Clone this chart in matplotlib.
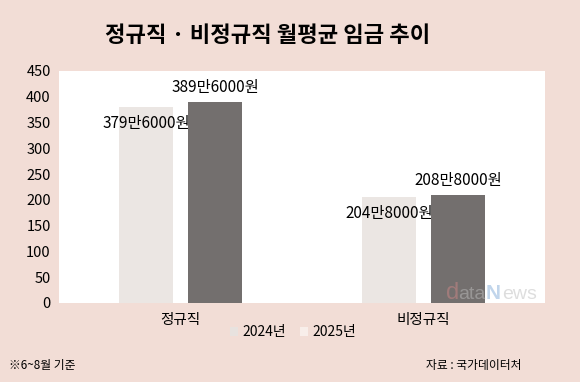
import matplotlib
matplotlib.use("Agg")
import matplotlib.pyplot as plt
import numpy as np

plt.rcParams['font.family'] = ['Noto Sans CJK KR', 'DejaVu Sans']

categories = ["정규직", "비정규직"]
series_names = ["2024년", "2025년"]
values_2024 = [379.6, 204.8]
values_2025 = [389.6, 208.8]
labels_2024 = ["379만6000원", "204만8000원"]
labels_2025 = ["389만6000원", "208만8000원"]
yticks = [0, 50, 100, 150, 200, 250, 300, 350, 400, 450]

bg = "#f2ddd6"
c2024 = "#ebe6e3"
c2025 = "#736f6e"

fig = plt.figure(figsize=(5.8, 3.82), dpi=100)
fig.patch.set_facecolor(bg)
ax = fig.add_axes([59/580, 1-303/382, (545-59)/580, (303-71)/382])
ax.set_facecolor("white")

x = np.arange(len(categories))
w = 0.222
off = 0.142
b1 = ax.bar(x - off, values_2024, w, color=c2024, label=series_names[0])
b2 = ax.bar(x + off, values_2025, w, color=c2025, label=series_names[1])

for xi, v, t in zip(x, values_2024, labels_2024):
    ax.annotate(t, (xi - off, v), xytext=(0, -11.5), textcoords="offset points",
                ha="center", va="center", fontsize=11, weight="medium")
for xi, v, t in zip(x, values_2025, labels_2025):
    ax.annotate(t, (xi + off, v), xytext=(0, 10.5), textcoords="offset points",
                ha="center", va="center", fontsize=11, weight="medium")

ax.set_xlim(-0.5, 1.5)
ax.set_ylim(0, 450)
ax.set_yticks(yticks)
ax.set_yticklabels([str(t) for t in yticks], fontsize=10.5, weight="medium")
ax.set_xticks(x)
ax.set_xticklabels(categories, fontsize=10.5, weight="medium")
ax.tick_params(length=0, pad=6)
ax.tick_params(axis='x', pad=7)
for s in ax.spines.values():
    s.set_visible(False)

# watermark
wm_y = 1 - 293/382
fig.text(446/580, wm_y, "d", fontsize=17, color="#d98a8a", ha="left", va="center",
         family="Liberation Sans", alpha=0.45)
fig.text(458/580, wm_y - 0.004, "ata", fontsize=14, color="#bdbdbd", ha="left", va="center",
         family="Liberation Sans", alpha=0.5)
fig.text(485.5/580, wm_y - 0.002, "N", fontsize=15, color="#8fb4dc", ha="left", va="center",
         family="Liberation Sans", weight="bold", alpha=0.55)
fig.text(502/580, wm_y - 0.004, "ews", fontsize=14, color="#bdbdbd", ha="left", va="center",
         family="Liberation Sans", alpha=0.5)

# legend
leg = fig.legend(handles=[b1, b2], labels=series_names, loc="center",
                 bbox_to_anchor=(293/580, 1-332/382), ncol=2, frameon=False,
                 prop={"size": 10, "weight": "medium"}, handlelength=0.6, handleheight=0.6,
                 handletextpad=0.3, columnspacing=1.0)
leg.legend_handles[1].set_facecolor("#f8eeea")
leg.legend_handles[0].set_facecolor("#e8e2df")

fig.text(268/580, 1-36/382, "정규직 · 비정규직 월평균 임금 추이", ha="center", va="center",
         fontsize=16, weight="black")
fig.text(9/580, 1-366/382, "※6~8월 기준", ha="left", va="center", fontsize=8.5, weight="medium")
fig.text(521/580, 1-366/382, "자료 : 국가데이터처", ha="right", va="center", fontsize=8.5,
         weight="medium")

fig.savefig("out.png", dpi=100, facecolor=bg)
